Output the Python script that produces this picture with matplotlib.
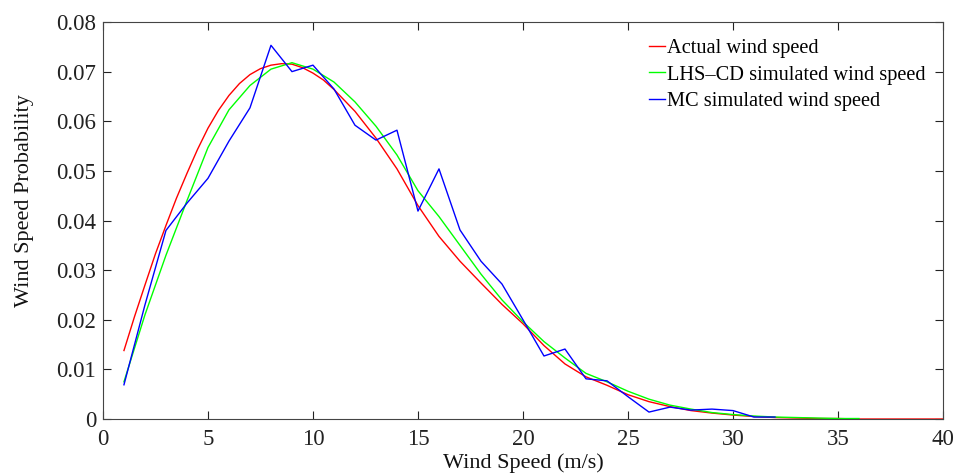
import numpy as np
import matplotlib.pyplot as plt

# actual wind speed probability (smooth curve)
speed = [1, 1.5, 2, 2.5, 3, 3.5, 4, 4.5, 5, 5.5, 6, 6.5, 7, 7.5, 8, 8.5, 9, 9.5, 10, 10.5,
         11, 12, 13, 14, 15, 16, 17, 18, 19, 20, 21, 22, 23, 24, 25, 26, 27, 28, 29, 30,
         31, 32, 33, 34, 35, 36, 37, 38, 39, 40]
actual = [0.0138, 0.0206, 0.0270, 0.0333, 0.0390, 0.0445, 0.0495, 0.0543, 0.0586, 0.0622,
          0.0652, 0.0676, 0.0694, 0.0706, 0.0713, 0.0716, 0.0715, 0.0708, 0.0697, 0.0683,
          0.0664, 0.0620, 0.0566, 0.0504, 0.0430, 0.0368, 0.0318, 0.0274, 0.0231, 0.0192,
          0.0148, 0.0111, 0.0085, 0.0068, 0.0049, 0.0035, 0.0025, 0.0017, 0.0012, 0.0008,
          0.0005, 0.0003, 0.0002, 0.0001, 0.0001, 0.0000, 0.0000, 0.0000, 0.0000, 0.0000]

lhs_speed = list(range(1, 37))
lhs = [0.0075, 0.0210, 0.0330, 0.0440, 0.0547, 0.0623, 0.0672, 0.0705, 0.0718, 0.0705,
       0.0679, 0.0639, 0.0590, 0.0532, 0.0460, 0.0408, 0.0350, 0.0292, 0.0240, 0.0196,
       0.0156, 0.0123, 0.0092, 0.0075, 0.0056, 0.0040, 0.0028, 0.0020, 0.0013, 0.0009,
       0.0006, 0.0004, 0.0003, 0.0002, 0.0001, 0.0001]

mc_speed = list(range(1, 33))
mc = [0.0069, 0.0230, 0.0380, 0.0435, 0.0485, 0.0560, 0.0627, 0.0753, 0.0700, 0.0713,
      0.0665, 0.0592, 0.0562, 0.0582, 0.0419, 0.0504, 0.0381, 0.0318, 0.0272, 0.0200,
      0.0127, 0.0141, 0.0081, 0.0077, 0.0045, 0.0014, 0.0024, 0.0018, 0.0020, 0.0017,
      0.0004, 0.0004]

ytick_labels = ['0', '0.01', '0.02', '0.03', '0.04', '0.05', '0.06', '0.07', '0.08']

plt.rcParams['font.family'] = ['Liberation Serif', 'DejaVu Serif']

fig = plt.figure(figsize=(9.56, 4.76), dpi=100)
ax = fig.add_axes([0.1077, 0.1197, 0.8787, 0.8341])

ax.plot(speed, actual, color='#ff0000', lw=1.0, label='Actual wind speed')
ax.plot(lhs_speed, lhs, color='#00ff00', lw=1.0, label='LHS\u2013CD simulated wind speed')
ax.plot(mc_speed, mc, color='#0000ff', lw=1.0, label='MC simulated wind speed')

ax.set_xlim(0, 40)
ax.set_ylim(0, 0.08)
ax.set_xticks(range(0, 41, 5))
ax.set_yticks(np.arange(0, 0.081, 0.01))
ax.set_yticklabels(ytick_labels)
ax.tick_params(direction='in', top=True, right=True, length=6, width=0.8,
               labelsize=16.5, colors='#222222')
ax.tick_params(axis='x', pad=7)
ax.tick_params(axis='y', pad=5)
for s in ax.spines.values():
    s.set_color('#444444')
    s.set_linewidth(0.8)

ax.set_xlabel('Wind Speed (m/s)', fontsize=16, color='#111111')
ax.set_ylabel('Wind Speed Probability', fontsize=16, color='#111111')
ax.xaxis.set_label_coords(0.5, -0.111)
ax.yaxis.set_label_coords(-0.093, 0.549)
ax.xaxis.label.set_va('center')
ax.yaxis.label.set_va('center')

ax.legend(loc='upper left', bbox_to_anchor=(0.640, 0.978), frameon=False,
          fontsize=14.7, handlelength=0.8, handletextpad=0.1, labelspacing=0.35,
          borderaxespad=0)

fig.savefig('out.png', dpi=100)
